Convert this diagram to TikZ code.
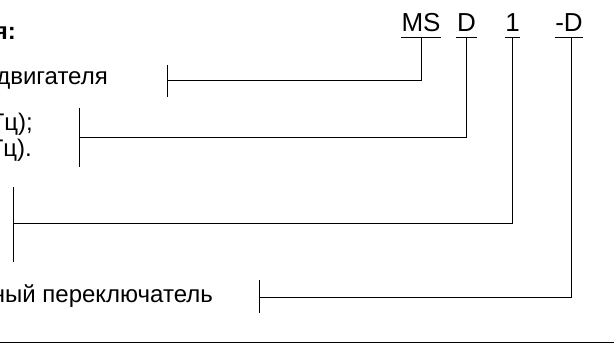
\documentclass[tikz,border=0pt]{standalone}
\usepackage{fontspec}
\setmainfont{Liberation Sans}
\usetikzlibrary{calc}
\begin{document}
\begin{tikzpicture}[x=1pt,y=-1pt,
  lbl/.style={inner sep=0pt, anchor=base east, font=\fontsize{24}{28}\selectfont},
  hdr/.style={inner xsep=0.5pt, inner ysep=0pt, text depth=5pt, anchor=base, font=\fontsize{26}{30}\selectfont},
  conn/.style={line width=1pt},
  ul/.style={line width=1.3pt}]
\useasboundingbox (0,0) rectangle (614,350);
% left labels
\node[lbl, font=\bfseries\fontsize{24}{28}\selectfont] (title) at (16,40) {я:};
\node[lbl] (l1) at (108,85) {двигателя};
\node[lbl] (l2a) at (33,131) {Гц);};
\node[lbl] (l2b) at (32,157) {Гц).};
\node[lbl] (l4) at (213,302) {ный переключатель};
% header
\node[hdr] (ms) at (421,32) {MS};
\node[hdr] (d) at (466.5,32) {D};
\node[hdr] (one) at (512.5,32) {1};
\node[hdr] (dd) at (569,32) {-D};
\foreach \n in {ms,d,one,dd} \draw[ul] (\n.south west) -- (\n.south east);
% tick coordinates
\coordinate (k1) at (167,81);
\coordinate (k2) at (79,138);
\coordinate (k3) at (13,224);
\coordinate (k4) at (259,298);
\draw[conn] ($(k1)+(0,-16)$) -- ($(k1)+(0,16)$);
\draw[conn] ($(k2)+(0,-30)$) -- ($(k2)+(0,29)$);
\draw[conn] ($(k3)+(0,-37)$) -- ($(k3)+(0,38)$);
\draw[conn] ($(k4)+(0,-18)$) -- ($(k4)+(0,15)$);
% connectors
\draw[conn] (ms.south) |- (k1);
\draw[conn] (d.south) |- (k2);
\draw[conn] (one.south) |- (k3);
\draw[conn] ($(dd.south)+(2,0)$) |- (k4);
% bottom rule
\coordinate (bl) at (0,342);
\coordinate (br) at (614,342);
\draw[conn] (bl) -- (br);
\end{tikzpicture}
\end{document}
